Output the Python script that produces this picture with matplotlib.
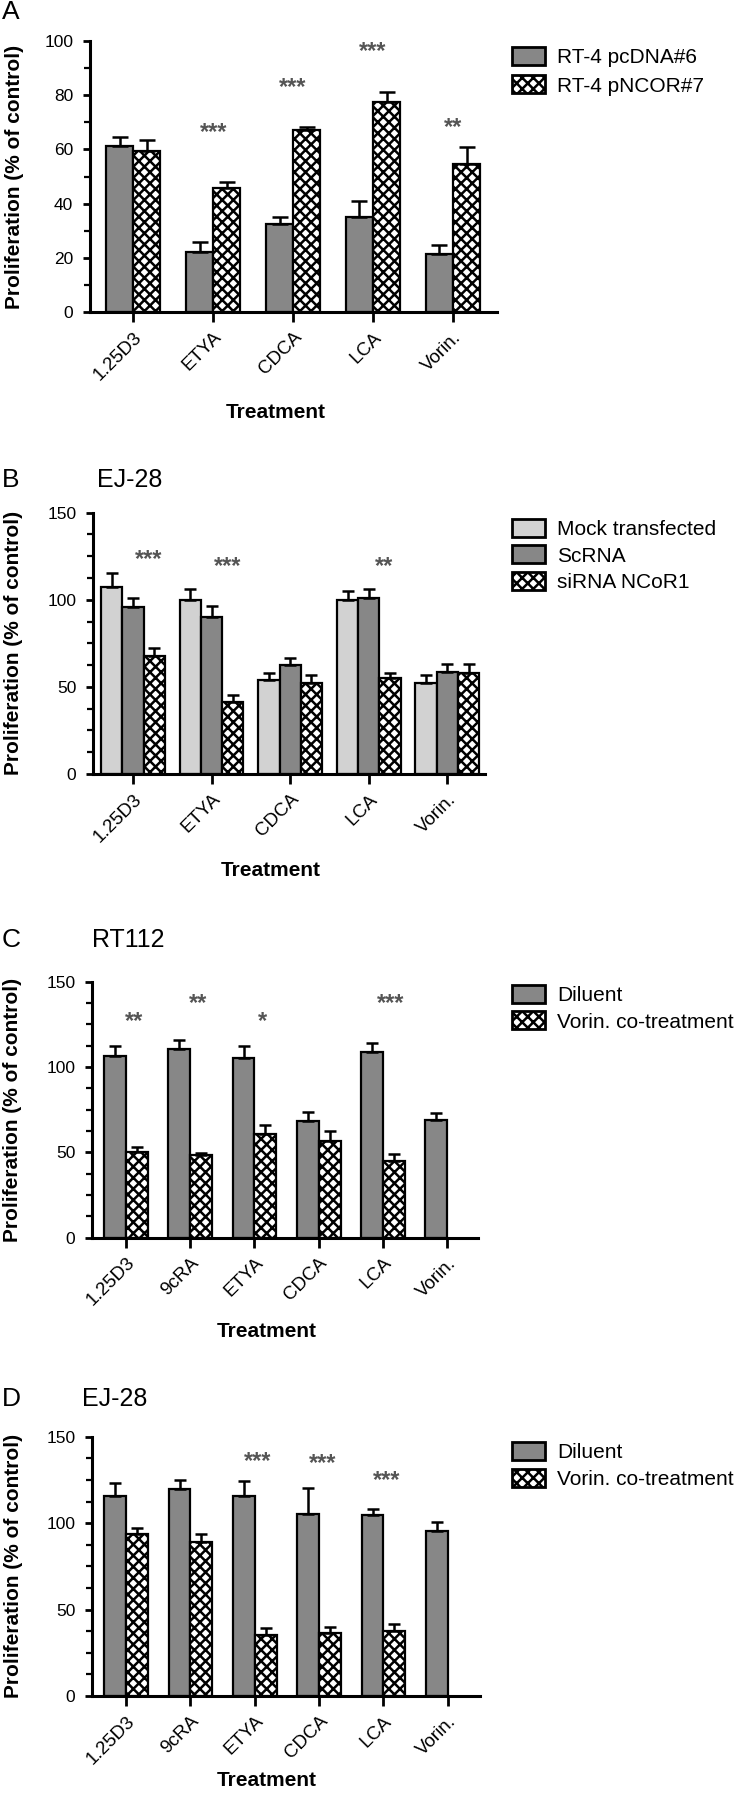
import numpy as np
import matplotlib
matplotlib.use("Agg")
import matplotlib.pyplot as plt
from matplotlib.patches import Patch
from matplotlib.ticker import MultipleLocator
from matplotlib import transforms

plt.rcParams['font.family'] = ['Liberation Sans', 'DejaVu Sans']
plt.rcParams['hatch.linewidth'] = 1.8

# ---------------- data ----------------
cats_a = ['1.25D3', 'ETYA', 'CDCA', 'LCA', 'Vorin.']
a_pcdna = [61.4, 22.3, 32.3, 35.0, 21.5]
a_pcdna_err = [3.3, 3.4, 2.9, 6.0, 3.3]
a_pncor = [59.4, 45.6, 67.2, 77.5, 54.5]
a_pncor_err = [4.0, 2.3, 0.9, 3.5, 6.5]
a_stars = [None, '***', '***', '***', '**']
a_star_y = [None, 68, 84.5, 98, 70]

cats_b = ['1.25D3', 'ETYA', 'CDCA', 'LCA', 'Vorin.']
b_mock = [107.5, 100, 54, 100, 52]
b_mock_err = [8, 6, 4, 5, 5]
b_scr = [96, 90.3, 62.4, 101, 58.7]
b_scr_err = [5, 6, 4, 5, 4.5]
b_sirna = [68, 41.5, 52, 55, 58]
b_sirna_err = [4.5, 4, 5, 3, 5]
b_stars = ['***', '***', None, '**', None]
b_star_y = [126, 122, None, 122, None]

cats_c = ['1.25D3', '9cRA', 'ETYA', 'CDCA', 'LCA', 'Vorin.']
c_dil = [106.6, 110.5, 105.5, 68.5, 109, 69]
c_dil_err = [6, 5.3, 7, 5, 5, 4]
c_vor = [50.4, 48.4, 60.6, 56.6, 45, np.nan]
c_vor_err = [2.5, 1.5, 5.5, 6, 4, np.nan]
c_stars = ['**', '**', '*', None, '***', None]
c_star_y = [129.5, 140, 129.5, None, 140, None]

cats_d = ['1.25D3', '9cRA', 'ETYA', 'CDCA', 'LCA', 'Vorin.']
d_dil = [115.7, 119.7, 115.9, 105.3, 104.7, 95.4]
d_dil_err = [7.3, 5.2, 8.7, 15, 3.5, 5.4]
d_vor = [94, 88.9, 35.3, 36.2, 37.8, np.nan]
d_vor_err = [3, 5, 3.8, 3.8, 3.8, np.nan]
d_stars = [None, None, '***', '***', '***', None]
d_star_y = [None, None, 138.4, 137.5, 127.4, None]

# ---------------- style ----------------
W, H = 738, 1800
fig = plt.figure(figsize=(W / 100, H / 100), dpi=100)

GRAY = '#878787'
LIGHT = '#d2d2d2'
STAR_C = '#555555'
CHECK = 'xxx'


def make_ax(left, right, top, bottom):
    return fig.add_axes([left / W, 1 - bottom / H, (right - left) / W, (bottom - top) / H])


def style_ax(ax, ymax, major, minor, xlim, cats, xl_frac, xl_px, yl_px):
    ax.set_ylim(0, ymax)
    ax.set_xlim(*xlim)
    for s in ['top', 'right']:
        ax.spines[s].set_visible(False)
    for s in ['left', 'bottom']:
        ax.spines[s].set_linewidth(2.2)
    ax.yaxis.set_major_locator(MultipleLocator(major))
    ax.yaxis.set_minor_locator(MultipleLocator(minor))
    ax.tick_params(axis='y', which='major', length=5, width=2, pad=7, labelsize=12.5)
    ax.tick_params(axis='y', which='minor', length=4, width=1.6)
    ax.set_xticks(range(len(cats)))
    ax.set_xticklabels(cats, rotation=45, ha='right', rotation_mode='anchor', fontsize=13.5)
    ax.tick_params(axis='x', which='major', length=7, width=2, pad=5)
    ax.tick_params(axis='x', which='minor', length=0)
    ax.set_xlabel('Treatment', fontsize=15, fontweight='bold')
    ax.set_ylabel('Proliferation (% of control)', fontsize=15, fontweight='bold')
    bb = ax.get_position()
    ax_h_px = bb.height * H
    ax_w_px = bb.width * W
    ax.xaxis.label.set_va('center')
    ax.xaxis.set_label_coords(xl_frac, -xl_px / ax_h_px)
    ax.yaxis.label.set_va('center')
    ax.yaxis.set_label_coords(-yl_px / ax_w_px, 0.5)


def bars(ax, x, vals, errs, width, face, hatch=None, capsize=4):
    ax.bar(x, vals, width=width, color=face, edgecolor='black', linewidth=1.6,
           hatch=hatch, zorder=2)
    ax.errorbar(x, vals, yerr=[np.zeros(len(vals)), errs], fmt='none', ecolor='black',
                elinewidth=1.8, capsize=capsize, capthick=1.8, zorder=3)


def stars(ax, stars_list, ys, dx):
    tr = transforms.offset_copy(ax.transData, fig=fig, y=-5, units='dots')
    for i, (s, y) in enumerate(zip(stars_list, ys)):
        if s:
            ax.text(i + dx, y, s, ha='center', va='center', fontsize=17,
                    color=STAR_C, fontweight='bold', transform=tr)


def legend(ax, handles, labels, x_px, y_px, spacing):
    ax.legend(handles, labels, loc='upper left',
              bbox_to_anchor=(x_px / W, 1 - y_px / H), bbox_transform=fig.transFigure,
              frameon=False, fontsize=15, handlelength=1.6, handleheight=0.95,
              handletextpad=0.55, labelspacing=spacing, borderpad=0, borderaxespad=0)


def panel_text(letter, title, x_title, y_px):
    fig.text(2 / W, 1 - y_px / H, letter, fontsize=19, ha='left', va='center')
    if title:
        fig.text(x_title / W, 1 - y_px / H, title, fontsize=18, ha='left', va='center')


# ---------------- Panel A ----------------
axA = make_ax(90, 497, 41, 312)
xa = np.arange(len(cats_a))
wa = 0.34
bars(axA, xa - wa / 2, a_pcdna, a_pcdna_err, wa, GRAY, capsize=6)
bars(axA, xa + wa / 2, a_pncor, a_pncor_err, wa, 'white', CHECK, capsize=6)
style_ax(axA, 100, 20, 10, (-0.54, 4.55), cats_a, 0.457, 101, 75)
stars(axA, a_stars, a_star_y, 0.0)
legend(axA, [Patch(facecolor=GRAY, edgecolor='black', linewidth=2),
             Patch(facecolor='white', edgecolor='black', linewidth=2, hatch=CHECK)],
       ['RT-4 pcDNA#6', 'RT-4 pNCOR#7'], 512, 47, 0.4)
panel_text('A', None, 0, 12)

# ---------------- Panel B ----------------
axB = make_ax(93, 485, 512.7, 774)
xb = np.arange(len(cats_b))
wb = 0.27
bars(axB, xb - wb, b_mock, b_mock_err, wb, LIGHT)
bars(axB, xb, b_scr, b_scr_err, wb, GRAY)
bars(axB, xb + wb, b_sirna, b_sirna_err, wb, 'white', CHECK)
style_ax(axB, 150, 50, 12.5, (-0.51, 4.48), cats_b, 0.454, 96, 79)
stars(axB, b_stars, b_star_y, 0.2)
legend(axB, [Patch(facecolor=LIGHT, edgecolor='black', linewidth=2),
             Patch(facecolor=GRAY, edgecolor='black', linewidth=2),
             Patch(facecolor='white', edgecolor='black', linewidth=2, hatch=CHECK)],
       ['Mock transfected', 'ScRNA', 'siRNA NCoR1'], 512, 519, 0.3)
panel_text('B', 'EJ-28', 97, 480)

# ---------------- Panel C ----------------
axC = make_ax(92, 478, 981.7, 1237.7)
xc = np.arange(len(cats_c))
wc = 0.34
bars(axC, xc - wc / 2, c_dil, c_dil_err, wc, GRAY)
bars(axC, xc + wc / 2, c_vor, c_vor_err, wc, 'white', CHECK)
style_ax(axC, 150, 50, 12.5, (-0.53, 5.48), cats_c, 0.453, 94, 79)
stars(axC, c_stars, c_star_y, 0.12)
legend(axC, [Patch(facecolor=GRAY, edgecolor='black', linewidth=2),
             Patch(facecolor='white', edgecolor='black', linewidth=2, hatch=CHECK)],
       ['Diluent', 'Vorin. co-treatment'], 512, 985, 0.3)
panel_text('C', 'RT112', 92, 940)

# ---------------- Panel D ----------------
axD = make_ax(92, 480, 1436.7, 1696)
xd = np.arange(len(cats_d))
wd = 0.34
bars(axD, xd - wd / 2, d_dil, d_dil_err, wd, GRAY)
bars(axD, xd + wd / 2, d_vor, d_vor_err, wd, 'white', CHECK)
style_ax(axD, 150, 50, 12.5, (-0.53, 5.5), cats_d, 0.45, 84, 78)
stars(axD, d_stars, d_star_y, 0.05)
legend(axD, [Patch(facecolor=GRAY, edgecolor='black', linewidth=2),
             Patch(facecolor='white', edgecolor='black', linewidth=2, hatch=CHECK)],
       ['Diluent', 'Vorin. co-treatment'], 512, 1442, 0.33)
panel_text('D', 'EJ-28', 82, 1399)

fig.savefig('out.png', dpi=100)
